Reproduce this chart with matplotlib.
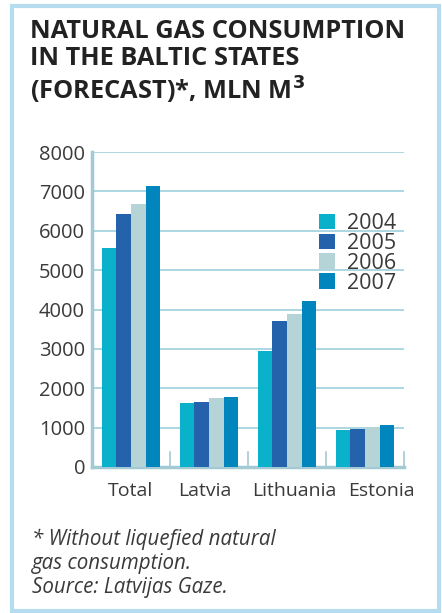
import matplotlib
matplotlib.use("Agg")
import matplotlib.pyplot as plt
from matplotlib.patches import Rectangle
from matplotlib.transforms import ScaledTranslation
import numpy as np

categories = ["Total", "Latvia", "Lithuania", "Estonia"]
years = ["2004", "2005", "2006", "2007"]
v2004 = [5560, 1630, 2940, 940]
v2005 = [6430, 1660, 3710, 975]
v2006 = [6680, 1745, 3875, 1010]
v2007 = [7140, 1780, 4220, 1065]
series = [v2004, v2005, v2006, v2007]
colors = ["#0ab1cb", "#2463ab", "#b5d4d8", "#0085bd"]
yticks = [0, 1000, 2000, 3000, 4000, 5000, 6000, 7000, 8000]

W, H = 442, 613
fig = plt.figure(figsize=(W/100, H/100), dpi=100)
fig.patch.set_facecolor("white")
font = "Open Sans"
txtc = "#3a3a3a"

# border
fig.add_artist(Rectangle((12/W, 1 - 611/H), 427/W, 605/H, transform=fig.transFigure,
                         fill=False, edgecolor="#b6dcf0", linewidth=3))

fig.text(30/W, 1 - 19/H, "NATURAL GAS CONSUMPTION\nIN THE BALTIC STATES\n(FORECAST)*, MLN M$^{\\mathbf{3}}$",
         ha="left", va="top", fontsize=18.3, fontweight="bold", family=font, color="#222222",
         linespacing=1.13)

ax = fig.add_axes([92/W, 1 - 467/H, (404-92)/W, (467-152)/H])
x = np.arange(len(categories))
bw = 0.186
for i, (vals, c, yr) in enumerate(zip(series, colors, years)):
    ax.bar(x + (i - 1.5) * bw, vals, width=bw, color=c, label=yr, zorder=3)

ax.set_xlim(-0.5, 3.5)
ax.set_ylim(0, 8000)
ax.set_yticks(yticks)
ax.set_yticklabels([str(t) for t in yticks], family=font, fontsize=14.5, color=txtc)
ax.set_xticks(x)
ax.set_xticklabels(categories, family=font, fontsize=14, color=txtc)
ax.tick_params(axis="x", length=0, pad=11)
ax.tick_params(axis="y", length=0, pad=5)
# label offsets in pixels (reference labels are not perfectly centered)
offsets_px = [-1, -4, 7, 16]
for lab, dx in zip(ax.get_xticklabels(), offsets_px):
    lab.set_transform(lab.get_transform() + ScaledTranslation(dx/100, 0, fig.dpi_scale_trans))
for t in yticks[1:]:
    ax.axhline(t, color="#9fcfdc", linewidth=1.2, zorder=1)
for s in ["top", "right"]:
    ax.spines[s].set_visible(False)
ax.spines["left"].set_color("#a3c9d4")
ax.spines["left"].set_linewidth(2.5)
ax.spines["bottom"].set_color("#a3c9d4")
ax.spines["bottom"].set_linewidth(2.5)
for b in [0.5, 1.5, 2.5, 3.5]:
    ax.plot([b, b], [0, 380], color="#a3c9d4", linewidth=1.2, zorder=2, clip_on=False)

leg = ax.legend(loc="upper left", bbox_to_anchor=((319-92)/(404-92), 1 - (213-152)/(467-152)),
                frameon=False, prop={"family": font, "size": 15.5}, handlelength=0.75,
                handleheight=0.75, labelspacing=-0.05, handletextpad=0.55, borderpad=0,
                borderaxespad=0)
for t in leg.get_texts():
    t.set_color(txtc)
leg.set_zorder(5)

fig.text(32/W, 1 - 529/H, "* Without liquefied natural\ngas consumption.\nSource: Latvijas Gaze.",
         ha="left", va="top", fontsize=14.8, style="italic", family=font, color=txtc,
         linespacing=1.17)

fig.savefig("out.png", dpi=100, facecolor="white")
